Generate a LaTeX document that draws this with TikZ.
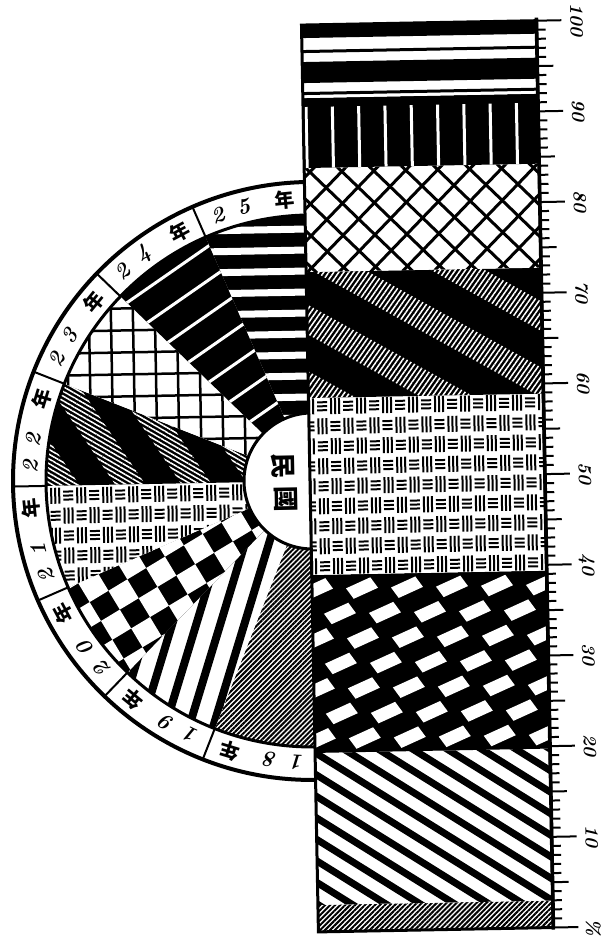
\documentclass[tikz,border=0pt]{standalone}
\usepackage{fontspec}
\newfontfamily\cjk{Noto Sans CJK TC}
\usetikzlibrary{patterns.meta}
\tikzset{
  rim/.style={line width=1.2mm},
  rule/.style={line width=0.9mm},
  divider/.style={line width=0.6mm},
  tick/.style={line width=0.6mm},
  weave/.style={line width=0.6mm},
  yrnum/.style={font=\fontsize{19}{19}\selectfont\bfseries\itshape, inner sep=0pt},
  yrchar/.style={font=\cjk\bfseries\fontsize{17}{17}\selectfont, inner sep=0pt},
  hubchar/.style={font=\cjk\bfseries\fontsize{22}{22}\selectfont, inner sep=0pt, rotate=-90},
  scalenum/.style={font=\fontsize{16}{16}\selectfont\bfseries\itshape, inner sep=0pt, rotate=-90},
  finehatch/.style={pattern={Lines[angle=45,distance=3pt,line width=1.7pt]}},
}
% parallel lines: angle, spacing, width, colour
\newcommand\stripes[4]{\foreach \k in {-26,...,26}
  \draw[#4, line width=#3, rotate=#1] (-480,\k*#2) -- (480,\k*#2);}
% white squares of a chequer: angle, side, share
\newcommand\chequer[3]{\foreach \i in {-14,...,14} \foreach \j in {-14,...,14} {
  \ifodd\numexpr\i+\j\relax\else
  \fill[white, rotate=#1] (\i*#2,\j*#2) ++(-#3*#2/2,-#3*#2/2) rectangle ++(#3*#2,#3*#2);\fi}}
% white lozenges of a sheared chequer
\newcommand\lozenges{\foreach \i in {-6,...,6} \foreach \j in {-10,...,10} {
  \ifodd\numexpr\i+\j\relax\else
  \fill[white] (\i*33.75+\j*11.25,\i*12.5-\j*12.5) +(-16,0) -- +(8.5,10.6) -- +(16,0) -- +(-8.5,-10.6) -- cycle;\fi}}
% basket weave
\newcommand\basket{\foreach \i in {-10,...,10} \foreach \j in {-6,...,6} {
  \ifodd\numexpr\i+\j\relax
    \foreach \d in {-4,0,4} \draw[weave] (\i*13+\d,\j*20-8) -- (\i*13+\d,\j*20+8);
  \else
    \foreach \d in {-4,0,4} \draw[weave] (\i*13-5,\j*20+\d) -- (\i*13+5,\j*20+\d);
  \fi}}
% hatched bands: band angle, period, width, hatch angle
\newcommand\bands[4]{\foreach \k in {-8,...,8} {\begin{scope}
  \clip[rotate=#1] (-480,\k*#2) rectangle (480,\k*#2+#3);
  \fill[pattern={Lines[angle=#4,distance=3.5pt,line width=1.3pt]}, pattern color=white] (-480,-480) rectangle (480,480);
  \end{scope}}}
\newcommand\sector[2]{\clip (0,0) -- (#1:267) arc[start angle=#1,end angle=#2,radius=267] -- cycle;}
\begin{document}
\begin{tikzpicture}[x=0.03cm,y=0.03cm]
\useasboundingbox (0,0) rectangle (607,942);
\begin{scope}[rotate around={1.07:(310,461)}, transform shape]
% half circle
\begin{scope}[shift={(312,461)}]
  \begin{scope}\sector{247.5}{270}
    \fill[white] (-300,-300) rectangle (300,300);
    \fill[finehatch] (-300,-300) rectangle (300,300);
  \end{scope}
  \begin{scope}\sector{225}{247.5}
    \fill[white] (-300,-300) rectangle (300,300);
    \stripes{72}{23}{2.4mm}{black}
  \end{scope}
  \begin{scope}\sector{202.5}{225}
    \fill[black] (-300,-300) rectangle (300,300);
    \chequer{30}{22}{1}
  \end{scope}
  \begin{scope}\sector{180}{202.5}
    \fill[white] (-300,-300) rectangle (300,300);
    \begin{scope}[shift={(-140,-50)}]\basket\end{scope}
  \end{scope}
  \begin{scope}\sector{157.5}{180}
    \fill[black] (-300,-300) rectangle (300,300);
    \bands{-57}{55}{25}{-30}
  \end{scope}
  \begin{scope}\sector{135}{157.5}
    \fill[white] (-300,-300) rectangle (300,300);
    \stripes{0}{22}{0.75mm}{black}
    \stripes{90}{22}{0.75mm}{black}
  \end{scope}
  \begin{scope}\sector{112.5}{135}
    \fill[black] (-300,-300) rectangle (300,300);
    \stripes{33.75}{28}{0.9mm}{white}
  \end{scope}
  \begin{scope}\sector{90}{112.5}
    \fill[black] (-300,-300) rectangle (300,300);
    \stripes{0}{21}{2.1mm}{white}
  \end{scope}
  % hub
  \fill[white] (0,0) circle (68);
  \draw[rule] (90:68) arc[start angle=90,end angle=270,radius=68];
  \node[hubchar] (min) at (-29,15) {民};
  \node[hubchar] (guo) at (-26,-18) {國};
  % ring of years
  \fill[white] (90:299) arc[start angle=90,end angle=270,radius=299] -- (270:266) arc[start angle=270,end angle=90,radius=266] -- cycle;
  \draw[rim] (90:299) arc[start angle=90,end angle=270,radius=299];
  \draw[rule] (90:266) arc[start angle=90,end angle=270,radius=266];
  \foreach \a in {112.5,135,...,247.5} \draw[divider] (\a:266) -- (\a:299);
  \foreach \i/\da/\db in {0/1/8,1/1/9,2/2/0,3/2/1,4/2/2,5/2/3,6/2/4,7/2/5} {
    \pgfmathsetmacro\ta{266-22.5*\i}
    \pgfmathsetmacro\tb{260.5-22.5*\i}
    \pgfmathsetmacro\tc{252-22.5*\i}
    \node[yrnum, rotate=\ta-90] (da\i) at (\ta:282) {\da};
    \node[yrnum, rotate=\tb-90] (db\i) at (\tb:282) {\db};
    \node[yrchar, rotate=\tc-90] (nian\i) at (\tc:282) {年};
  }
\end{scope}
% bar of shares
\begin{scope}[shift={(427.5,23.5)}]\clip (-117.5,-13.5) rectangle (117.5,13.5);
  \fill[white] (-120,-20) rectangle (120,20); \fill[finehatch] (-120,-20) rectangle (120,20);
\end{scope}
\begin{scope}[shift={(427.5,113)}]\clip (-117.5,-76) rectangle (117.5,76);
  \fill[white] (-120,-80) rectangle (120,80); \stripes{-33}{18.2}{2.1mm}{black}
\end{scope}
\begin{scope}[shift={(427.5,278)}]\clip (-117.5,-89) rectangle (117.5,89);
  \fill[black] (-120,-90) rectangle (120,90); \lozenges
\end{scope}
\begin{scope}[shift={(427.5,455.5)}]\clip (-117.5,-88.5) rectangle (117.5,88.5);
  \fill[white] (-120,-90) rectangle (120,90); \basket
\end{scope}
\begin{scope}[shift={(427.5,607)}]\clip (-117.5,-63) rectangle (117.5,63);
  \fill[black] (-120,-70) rectangle (120,70); \bands{-30}{58}{26}{55}
\end{scope}
\begin{scope}[shift={(427.5,722)}]\clip (-117.5,-52) rectangle (117.5,52);
  \fill[white] (-120,-60) rectangle (120,60);
  \stripes{45}{22.6}{0.9mm}{black} \stripes{-45}{22.6}{0.9mm}{black}
\end{scope}
\fill[black] (310,774) rectangle (545,844);
\foreach \k in {0,...,8} \draw[white, line width=0.9mm] (313+26.3*\k,774) -- ++(0,61);
\fill[white] (310,844) rectangle (545,917);
\fill[black] (310,904) rectangle (545,917); \fill[black] (310,889) rectangle (545,892);
\fill[black] (310,859) rectangle (545,880); \fill[black] (310,847) rectangle (545,850);
\draw[rule] (310,10) rectangle (545,917);
% scale
\draw[line width=1.1mm] (545,8) -- (545,920);
\foreach \v in {0,...,100} {
  \pgfmathsetmacro\tl{mod(\v,10)==0 ? 25 : (mod(\v,5)==0 ? 16 : 9)}
  \draw[tick] (545,10+9.07*\v) -- ++(\tl,0);
}
\foreach \v/\t in {0/\%,10/10,20/20,30/30,40/40,50/50,60/60,70/70,80/80,90/90,100/100}
  \node[scalenum] (s\v) at (585,10+9.07*\v) {\t};
\end{scope}
\end{tikzpicture}
\end{document}
